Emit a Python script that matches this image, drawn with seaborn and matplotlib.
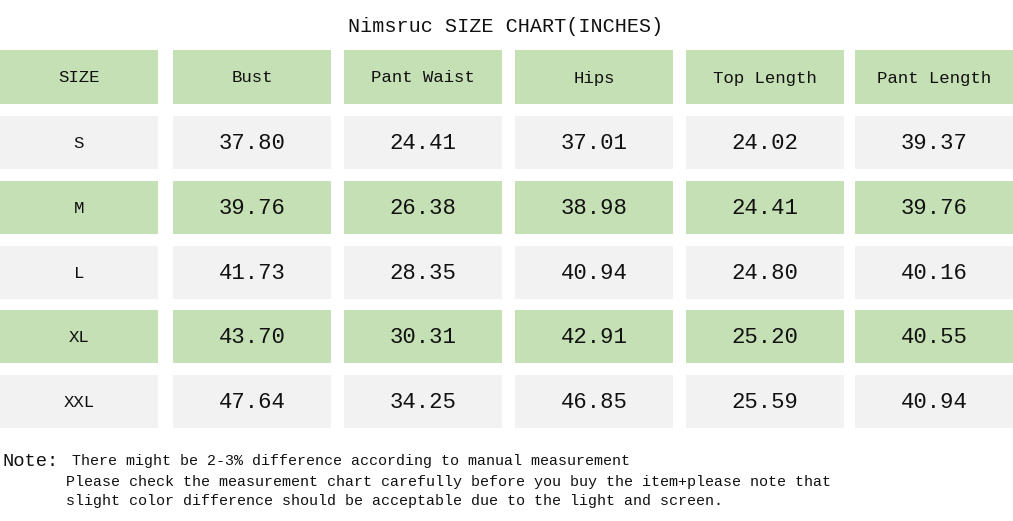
import matplotlib
matplotlib.use("Agg")
import matplotlib.pyplot as plt
import seaborn as sns
from matplotlib.patches import Rectangle

sns.set_theme(style="white")
plt.rcParams['font.family'] = ['Liberation Mono', 'DejaVu Sans Mono']

title = "Nimsruc SIZE CHART(INCHES)"
headers = ["SIZE", "Bust", "Pant Waist", "Hips", "Top Length", "Pant Length"]
sizes = ["S", "M", "L", "XL", "XXL"]
bust = ["37.80", "39.76", "41.73", "43.70", "47.64"]
pant_waist = ["24.41", "26.38", "28.35", "30.31", "34.25"]
hips = ["37.01", "38.98", "40.94", "42.91", "46.85"]
top_length = ["24.02", "24.41", "24.80", "25.20", "25.59"]
pant_length = ["39.37", "39.76", "40.16", "40.55", "40.94"]
note_lines = ["There might be 2-3% difference according to manual measurement",
              "Please check the measurement chart carefully before you buy the item+please note that",
              "slight color difference should be acceptable due to the light and screen."]

GREEN = "#c5e0b4"
GREY = "#f2f2f2"
col_x = [(0, 158), (173, 331), (344, 502), (515, 673), (686, 844), (855, 1013)]
row_y = [(50, 104), (116, 169), (181, 234), (246, 299), (310, 363), (375, 428)]

fig = plt.figure(figsize=(10.13, 5.21), dpi=100)
ax = fig.add_axes([0, 0, 1, 1])
ax.set_xlim(0, 1013)
ax.set_ylim(521, 0)
ax.axis("off")

columns = [sizes, bust, pant_waist, hips, top_length, pant_length]
for r, (y0, y1) in enumerate(row_y):
    color = GREEN if r % 2 == 0 else GREY
    for c, (x0, x1) in enumerate(col_x):
        ax.add_patch(Rectangle((x0, y0), x1 - x0, y1 - y0, color=color, lw=0))
        if r == 0:
            txt, fs = headers[c], 12.5
        else:
            txt = columns[c][r - 1]
            fs = 12.5 if c == 0 else 16
        ax.text((x0 + x1) / 2, (y0 + y1) / 2 + 1, txt, ha="center", va="center",
                fontsize=fs, color="#111111")

ax.text(506, 26, title, ha="center", va="center", fontsize=14.5, color="#111111")
ax.text(3, 461, "Note:", ha="left", va="center", fontsize=13.5, color="#111111")
ax.text(72, 461, note_lines[0], ha="left", va="center", fontsize=10.8, color="#111111")
ax.text(66, 482, note_lines[1], ha="left", va="center", fontsize=10.8, color="#111111")
ax.text(66, 501, note_lines[2], ha="left", va="center", fontsize=10.8, color="#111111")

fig.savefig("out.png", dpi=100)
